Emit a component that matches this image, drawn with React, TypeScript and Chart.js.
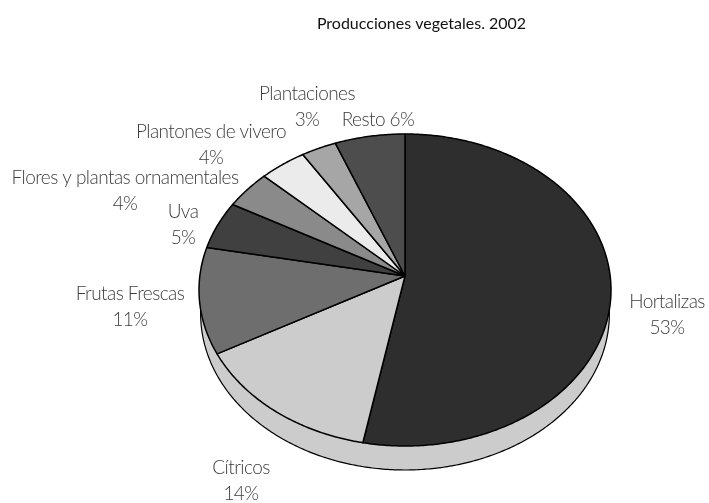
import React, { useEffect, useRef } from "react";
import { Chart, registerables } from "chart.js";

Chart.register(...registerables);

const categories = ["Hortalizas", "Cítricos", "Frutas Frescas", "Uva", "Flores y plantas ornamentales", "Plantones de vivero", "Plantaciones", "Resto"];
const values = [53, 14, 11, 5, 4, 4, 3, 6];
const sliceColors = ["#2e2e2e", "#cccccc", "#6e6e6e", "#404040", "#8a8a8a", "#ebebeb", "#a6a6a6", "#4d4d4d"];
const titleText = "Producciones vegetales. 2002";

// label layout: centre x, middle y of first line, single-line flag
const labelLayout = [
  { x: 667, y: 302, inline: false },
  { x: 241, y: 468, inline: false },
  { x: 130, y: 294, inline: false },
  { x: 183, y: 212, inline: false },
  { x: 125, y: 178, inline: false },
  { x: 211, y: 132, inline: false },
  { x: 307, y: 94, inline: false },
  { x: 378, y: 120, inline: true },
];

// projective view of the pie disc
const view = { cx: 405, apexY: 276, topY: 134, bottomY: 446, rx: 206, depth: 24, wallScale: 0.992 };
const c = (2 * view.apexY - view.topY - view.bottomY) / (view.bottomY - view.topY);
const a = view.bottomY * (1 + c) - view.apexY;
const d = view.rx * Math.sqrt(1 - c * c);

function project(angle: number) {
  const u = Math.cos(angle);
  const v = Math.sin(angle);
  const w = 1 + c * v;
  return { x: view.cx + (d * u) / w, y: (a * v + view.apexY) / w };
}

function traceArc(ctx: CanvasRenderingContext2D, from: number, to: number, dy = 0, sx = 1) {
  const steps = Math.max(4, Math.ceil(Math.abs(to - from) / 0.01));
  for (let i = 0; i <= steps; i++) {
    const p = project(from + ((to - from) * i) / steps);
    ctx.lineTo(view.cx + (p.x - view.cx) * sx, p.y + dy);
  }
}

const pie3d = {
  id: "pie3d",
  beforeDatasetDraw(chart: any, args: any) {
    const { ctx } = chart;
    const arcs = chart.getDatasetMeta(args.index).data;
    ctx.save();
    ctx.lineJoin = "round";
    // side wall
    ctx.beginPath();
    traceArc(ctx, 0, Math.PI * 2, view.depth, view.wallScale);
    ctx.closePath();
    ctx.fillStyle = "#cccccc";
    ctx.strokeStyle = "#000";
    ctx.lineWidth = 1.2;
    ctx.fill();
    ctx.stroke();
    // slices
    arcs.forEach((arc: any, i: number) => {
      ctx.beginPath();
      ctx.moveTo(view.cx, view.apexY);
      traceArc(ctx, arc.startAngle, arc.endAngle);
      ctx.closePath();
      ctx.fillStyle = sliceColors[i];
      ctx.fill();
      ctx.lineWidth = 1.5;
      ctx.stroke();
    });
    ctx.restore();
    return false;
  },
  afterDraw(chart: any) {
    const { ctx } = chart;
    ctx.save();
    ctx.font = "300 19px Lato";
    (ctx as any).letterSpacing = "-0.55px";
    ctx.fillStyle = "#3c3c3c";
    ctx.textAlign = "center";
    ctx.textBaseline = "middle";
    categories.forEach((name, i) => {
      const l = labelLayout[i];
      if (l.inline) {
        ctx.fillText(`${name} ${values[i]}%`, l.x, l.y);
      } else {
        ctx.fillText(name, l.x, l.y);
        ctx.fillText(`${values[i]}%`, l.x, l.y + 26);
      }
    });
    ctx.restore();
  },
};

export default function App() {
  const ref = useRef<HTMLCanvasElement>(null);
  useEffect(() => {
    const chart = new Chart(ref.current as HTMLCanvasElement, {
      type: "pie",
      data: {
        labels: categories,
        datasets: [{ data: values, backgroundColor: sliceColors, borderColor: "#000" }],
      },
      options: {
        animation: false,
        responsive: false,
        layout: { padding: { left: 134 } },
        plugins: {
          legend: { display: false },
          tooltip: { enabled: false },
          title: {
            display: true,
            text: titleText,
            color: "#111111",
            font: { family: "Lato", size: 16, weight: "normal" },
            padding: { top: 14, bottom: 10 },
          },
        },
      },
      plugins: [pie3d],
    } as any);
    return () => chart.destroy();
  }, []);
  return (
    <div style={{ position: "absolute", left: 0, top: 0, width: 709, height: 503 }}>
      <canvas ref={ref} width={709} height={503} style={{ display: "block" }} />
    </div>
  );
}
